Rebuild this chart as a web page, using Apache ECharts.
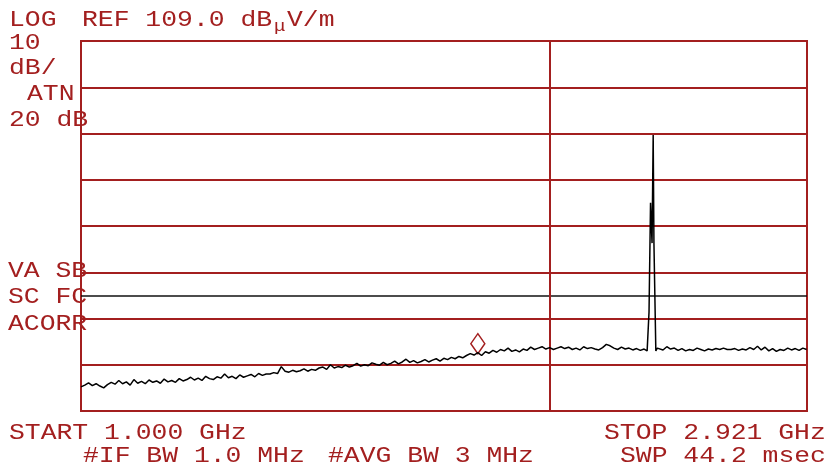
<!DOCTYPE html>
<html><head><meta charset="utf-8">
<script src="https://cdn.jsdelivr.net/npm/echarts@6/dist/echarts.min.js"></script>
<style>html,body{margin:0;padding:0;background:#fff}#c{width:829px;height:471px}</style>
</head><body><div id="c"></div>
<script>
// ---- data ----
const REF_DB = 109.0;
const DB_PER_DIV = 10;
const DIVS = 8;
const START_GHZ = 1.000;
const STOP_GHZ = 2.921;
const displayLineDb = 54.0;
const vertLineGHz = 2.244;
const markerGHz = 2.05;

const freqGHz = [
1.00,1.01,1.02,1.03,1.04,1.05,1.06,1.07,1.08,1.09,
1.10,1.11,1.12,1.13,1.14,1.15,1.16,1.17,1.18,1.19,
1.20,1.21,1.22,1.23,1.24,1.25,1.26,1.27,1.28,1.29,
1.30,1.31,1.32,1.33,1.34,1.35,1.36,1.37,1.38,1.39,
1.40,1.41,1.42,1.43,1.44,1.45,1.46,1.47,1.48,1.49,
1.50,1.51,1.52,1.53,1.54,1.55,1.56,1.57,1.58,1.59,
1.60,1.61,1.62,1.63,1.64,1.65,1.66,1.67,1.68,1.69,
1.70,1.71,1.72,1.73,1.74,1.75,1.76,1.77,1.78,1.79,
1.80,1.81,1.82,1.83,1.84,1.85,1.86,1.87,1.88,1.89,
1.90,1.91,1.92,1.93,1.94,1.95,1.96,1.97,1.98,1.99,
2.00,2.01,2.02,2.03,2.04,2.05,2.06,2.07,2.08,2.09,
2.10,2.11,2.12,2.13,2.14,2.15,2.16,2.17,2.18,2.19,
2.20,2.21,2.22,2.23,2.24,2.25,2.26,2.27,2.28,2.29,
2.30,2.31,2.32,2.33,2.34,2.35,2.36,2.37,2.38,2.39,
2.40,2.41,2.42,2.43,2.44,2.45,2.46,2.47,2.48,2.49,
2.498,2.503,2.503,2.507,2.507,2.511,2.514,2.516,2.521,2.521,2.525,
2.53,2.54,2.55,2.56,2.57,2.58,2.59,
2.60,2.61,2.62,2.63,2.64,2.65,2.66,2.67,2.68,2.69,
2.70,2.71,2.72,2.73,2.74,2.75,2.76,2.77,2.78,2.79,
2.80,2.81,2.82,2.83,2.84,2.85,2.86,2.87,2.88,2.89,
2.90,2.91,2.92,2.921
];

const levelDb = [
34.2,34.6,35.1,34.5,34.9,34.4,34.0,34.7,35.2,34.8,
35.6,34.9,35.3,34.6,35.8,35.0,35.4,34.9,35.7,35.2,
35.5,35.0,35.9,35.3,35.6,35.2,36.0,35.5,35.8,36.3,
35.7,36.1,35.6,36.5,36.0,35.8,36.4,36.1,37.0,36.2,
36.5,36.0,36.8,36.3,36.6,36.9,36.4,37.1,36.7,37.0,
37.0,37.3,37.1,38.6,37.6,37.4,37.8,37.5,37.7,38.1,
37.6,38.0,37.8,38.3,38.5,38.0,39.0,38.3,38.6,38.4,
38.9,38.5,38.8,39.3,38.7,39.0,38.8,39.4,39.1,38.9,
39.5,39.0,39.3,39.8,39.2,39.6,40.2,39.5,39.9,39.4,
39.7,40.1,39.6,40.0,40.3,39.8,40.4,40.1,40.6,40.3,
40.8,40.5,41.0,41.4,41.1,41.6,41.0,41.8,41.5,42.1,
41.7,42.3,42.0,42.6,41.9,42.2,41.8,42.4,42.1,42.8,
42.3,42.6,42.9,42.4,42.7,42.3,42.6,42.9,42.5,42.8,
42.3,42.6,42.2,42.9,42.5,42.7,42.4,42.2,42.7,43.4,
43.1,42.6,42.3,42.8,42.4,42.6,42.2,42.5,42.1,42.4,
42.0,42.2,50.4,50.4,74.0,65.3,88.7,65.3,65.3,42.0,42.6,
42.7,42.2,42.9,42.4,42.6,42.1,42.5,
42.0,42.3,42.1,42.6,42.3,42.0,42.4,42.2,42.5,42.3,
42.6,42.3,42.3,42.5,42.1,42.4,42.2,42.7,42.3,43.0,
42.2,42.8,42.0,42.5,41.9,42.3,42.1,42.6,42.2,42.5,
42.1,42.6,42.3,42.4
];

const headerLeft = ['LOG', 'REF 109.0 dB', '\u03bc', 'V/m'];
const sideLabels = ['10', 'dB/', 'ATN', '20 dB', 'VA SB', 'SC FC', 'ACORR'];
const footerLabels = ['START 1.000 GHz', '#IF BW 1.0 MHz', '#AVG BW 3 MHz', 'STOP 2.921 GHz', 'SWP 44.2 msec'];

// ---- chart ----
const RED = '#a31f1f';
const FONT = '"Liberation Mono", "DejaVu Sans Mono", monospace';
const SX = 1.2;
function txt(s, x, y, size) {
  return { type: 'text', x: x, y: y, scaleX: SX, z: 100,
    style: { text: s, font: size + 'px ' + FONT, fill: RED, verticalAlign: 'middle', align: 'left' } };
}

const data = freqGHz.map((f, i) => [f, levelDb[i] - REF_DB]);
const mi = freqGHz.indexOf(markerGHz);

const chart = echarts.init(document.getElementById('c'), null, { renderer: 'canvas' });
chart.setOption({
  animation: false,
  backgroundColor: '#ffffff',
  grid: { left: 81, top: 41, width: 726, height: 370, show: true, borderColor: RED, borderWidth: 2, backgroundColor: 'transparent' },
  xAxis: { type: 'value', min: START_GHZ, max: STOP_GHZ,
    axisLine: { show: false }, axisTick: { show: false }, axisLabel: { show: false }, splitLine: { show: false } },
  yAxis: { type: 'value', min: -DB_PER_DIV * DIVS, max: 0, interval: DB_PER_DIV,
    axisLine: { show: false }, axisTick: { show: false }, axisLabel: { show: false },
    splitLine: { show: true, lineStyle: { color: RED, width: 2 } } },
  series: [{
    type: 'line', data: data, showSymbol: false, symbol: 'none',
    lineStyle: { color: '#000', width: 1.5 }, z: 5,
    markLine: { silent: true, symbol: 'none', label: { show: false },
      data: [
        { yAxis: displayLineDb - REF_DB, lineStyle: { color: '#111', width: 1.5, type: 'solid' } },
        { xAxis: vertLineGHz, lineStyle: { color: RED, width: 2, type: 'solid' } }
      ] },
    markPoint: { silent: true, symbol: 'diamond', symbolSize: [14, 20], symbolOffset: [0, -9],
      label: { show: false },
      itemStyle: { color: 'rgba(0,0,0,0)', borderColor: RED, borderWidth: 1.5 },
      data: [{ coord: [freqGHz[mi], levelDb[mi] - REF_DB] }] }
  }],
  graphic: [
    txt(headerLeft[0], 9, 20, 22),
    txt(headerLeft[1], 82, 20, 22),
    txt(headerLeft[2], 274, 27, 16),
    txt(headerLeft[3], 287, 20, 22),
    txt(sideLabels[0], 9, 43, 22),
    txt(sideLabels[1], 9, 68, 22),
    txt(sideLabels[2], 27, 94, 22),
    txt(sideLabels[3], 9, 120, 22),
    txt(sideLabels[4], 8, 271, 22),
    txt(sideLabels[5], 8, 297, 22),
    txt(sideLabels[6], 8, 324, 22),
    txt(footerLabels[0], 9, 433, 22),
    txt(footerLabels[1], 83, 456, 22),
    txt(footerLabels[2], 328, 456, 22),
    txt(footerLabels[3], 604, 433, 22),
    txt(footerLabels[4], 620, 456, 22)
  ]
});
</script></body></html>
